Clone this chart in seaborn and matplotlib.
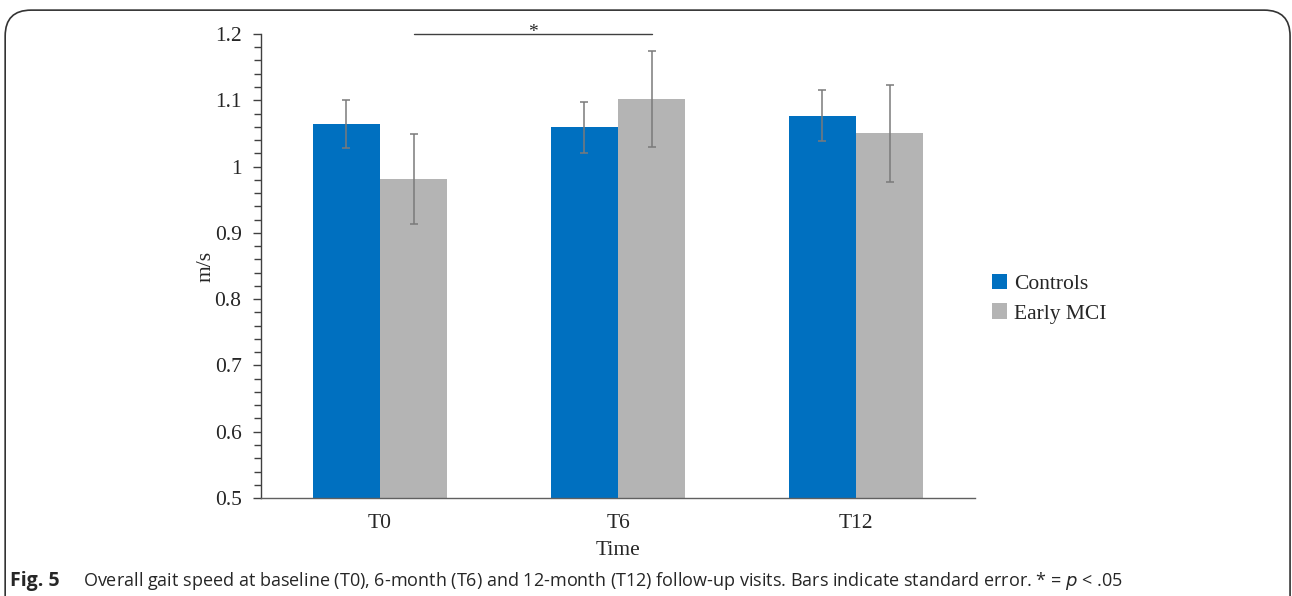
import numpy as np
import pandas as pd
import matplotlib.pyplot as plt
import seaborn as sns
from matplotlib.patches import FancyBboxPatch, Patch
from matplotlib.ticker import MultipleLocator

# values
times = ['T0', 'T6', 'T12']
groups = ['Controls', 'Early MCI']
controls = [1.064, 1.059, 1.077]
early_mci = [0.981, 1.102, 1.050]
controls_se = [0.036, 0.038, 0.038]
early_mci_se = [0.068, 0.073, 0.073]
colors = ['#0070c0', '#b4b4b4']

df = pd.DataFrame({
    'Time': times * 2,
    'Group': [groups[0]] * 3 + [groups[1]] * 3,
    'speed': controls + early_mci,
    'se': controls_se + early_mci_se,
})

sns.set_style('white')
plt.rcParams['font.family'] = ['Liberation Serif', 'DejaVu Serif']

fig = plt.figure(figsize=(12.92, 5.96), dpi=100)
ax = fig.add_axes([0.202, 0.1644, 0.5527, 0.7786])

sns.barplot(data=df, x='Time', y='speed', hue='Group', order=times, hue_order=groups,
            palette=colors, saturation=1, width=0.565, errorbar=None, linewidth=0,
            ax=ax, legend=False)
ax.set_xlim(-0.5, 2.5)

# error bars on the bar centres
for cont, grp in zip(ax.containers, groups):
    sub = df[df.Group == grp].set_index('Time').loc[times]
    xs = [p.get_x() + p.get_width() / 2 for p in cont.patches]
    ax.errorbar(xs, sub['speed'], yerr=sub['se'], fmt='none', ecolor='#7a7a7a',
                elinewidth=1.1, capsize=3, capthick=1.1, zorder=5)

ax.set_ylim(0.5, 1.2)
ax.yaxis.set_major_locator(MultipleLocator(0.1))
ax.yaxis.set_minor_locator(MultipleLocator(0.02))
ax.set_yticks(np.arange(0.5, 1.21, 0.1))
ax.set_yticklabels(['0.5', '0.6', '0.7', '0.8', '0.9', '1', '1.1', '1.2'])
ax.tick_params(axis='y', which='major', left=True, length=6, width=1, color='#404040',
               labelsize=15.5, pad=8)
ax.tick_params(axis='y', which='minor', left=True, length=5, width=1, color='#404040')
ax.tick_params(axis='x', bottom=False, labelsize=15.5, pad=8)
for s in ['top', 'right']:
    ax.spines[s].set_visible(False)
ax.spines['left'].set_color('#404040')
ax.spines['bottom'].set_color('#606060')
ax.spines['left'].set_linewidth(1)
ax.spines['bottom'].set_linewidth(1)
ax.set_xlabel('Time', fontsize=15.5, labelpad=6)
ax.set_ylabel('m/s', fontsize=15.5, labelpad=-1)

# significance bracket between Early MCI bars at T0 and T6
mci = ax.containers[1].patches
x0 = mci[0].get_x() + mci[0].get_width() / 2
x1 = mci[1].get_x() + mci[1].get_width() / 2
ax.plot([x0, x1], [1.2, 1.2], color='#404040', lw=1, clip_on=False)
ax.annotate('*', xy=((x0 + x1) / 2, 1.2), xytext=(0, -5), textcoords='offset points',
            ha='center', va='bottom', fontsize=14, annotation_clip=False)

handles = [Patch(facecolor=c, edgecolor='none') for c in colors]
fig.legend(handles, groups, loc='center left', bbox_to_anchor=(0.753, 0.499), frameon=False,
           fontsize=15.5, handlelength=0.7, handleheight=0.7, handletextpad=0.3,
           labelspacing=0.45)

# rounded frame and caption
frame = FancyBboxPatch((0.004, -0.1), 0.9945, 1.083, boxstyle='round,pad=0,rounding_size=0.02',
                       transform=fig.transFigure, fill=False, edgecolor='#333333', lw=1.2,
                       mutation_aspect=1292 / 596)
fig.patches.append(frame)
fig.text(0.0078, 0.016, 'Fig. 5', fontsize=14, fontweight='bold', family=['Open Sans', 'DejaVu Sans'],
         ha='left', va='baseline')
fig.text(0.064, 0.016, 'Overall gait speed at baseline (T0), 6-month (T6) and 12-month (T12) '
         'follow-up visits. Bars indicate standard error. * = $p$ < .05',
         fontsize=13, family=['Open Sans', 'DejaVu Sans'], ha='left', va='baseline')

fig.savefig('out.png', dpi=100)
